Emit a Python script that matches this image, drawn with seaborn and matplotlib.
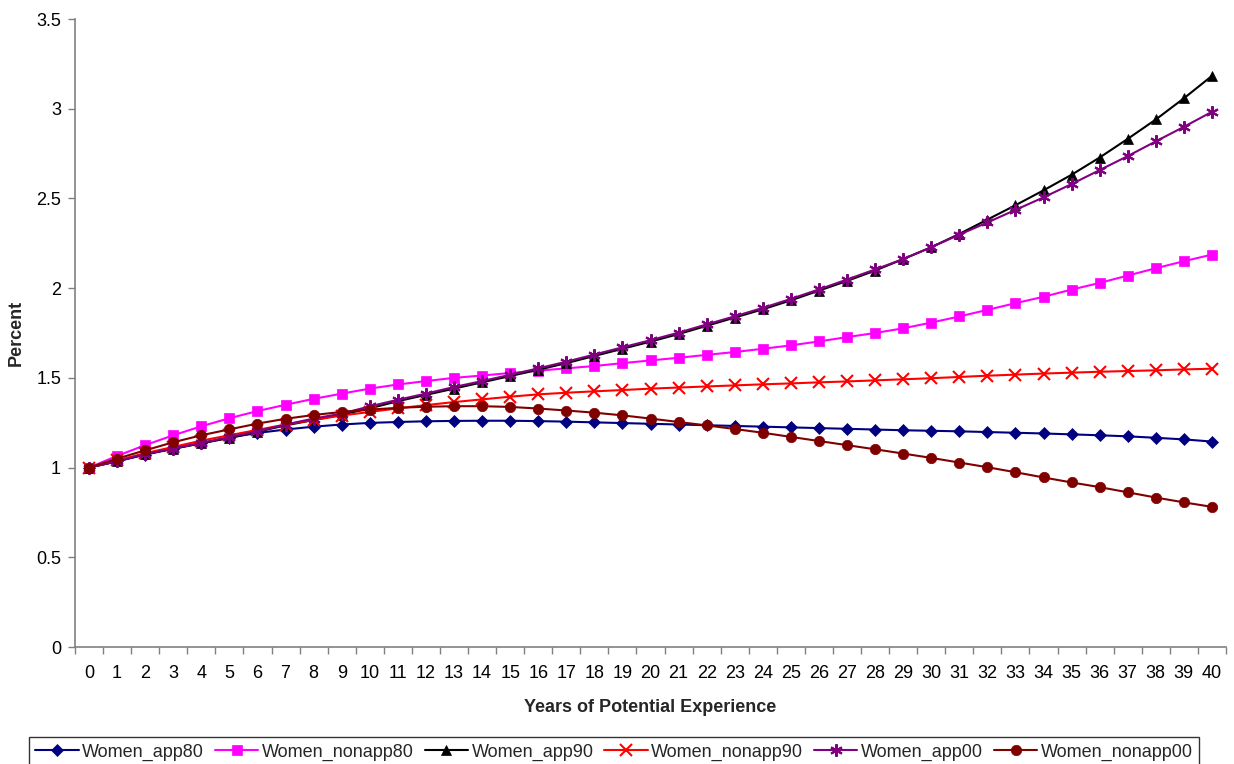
import matplotlib
matplotlib.use("Agg")
import matplotlib.pyplot as plt
from matplotlib.ticker import FixedLocator, NullFormatter
import numpy as np
import pandas as pd
import seaborn as sns

# Years of potential experience
years = list(range(41))

women_app80 = [1.000, 1.035, 1.072, 1.105, 1.137, 1.167, 1.193, 1.212, 1.228, 1.240,
               1.249, 1.254, 1.258, 1.260, 1.261, 1.261, 1.259, 1.256, 1.252, 1.248,
               1.244, 1.240, 1.236, 1.232, 1.228, 1.224, 1.220, 1.216, 1.212, 1.208,
               1.205, 1.202, 1.198, 1.194, 1.190, 1.185, 1.180, 1.174, 1.166, 1.157,
               1.145]
women_nonapp80 = [1.000, 1.065, 1.125, 1.180, 1.230, 1.275, 1.315, 1.350, 1.383, 1.412,
                  1.440, 1.463, 1.482, 1.500, 1.513, 1.527, 1.540, 1.553, 1.566, 1.582,
                  1.597, 1.612, 1.628, 1.644, 1.662, 1.681, 1.703, 1.727, 1.750, 1.776,
                  1.808, 1.842, 1.879, 1.916, 1.952, 1.992, 2.029, 2.070, 2.111, 2.150,
                  2.187]
women_app90 = [1.000, 1.035, 1.075, 1.105, 1.135, 1.165, 1.200, 1.235, 1.265, 1.295,
               1.330, 1.370, 1.405, 1.440, 1.475, 1.510, 1.545, 1.582, 1.622, 1.662,
               1.702, 1.744, 1.790, 1.836, 1.882, 1.932, 1.986, 2.040, 2.098, 2.162,
               2.228, 2.302, 2.382, 2.462, 2.545, 2.632, 2.728, 2.832, 2.940, 3.058,
               3.183]
women_nonapp90 = [1.000, 1.040, 1.080, 1.115, 1.150, 1.180, 1.210, 1.240, 1.265, 1.290,
                  1.310, 1.330, 1.348, 1.365, 1.380, 1.395, 1.408, 1.417, 1.425, 1.432,
                  1.440, 1.446, 1.452, 1.458, 1.464, 1.469, 1.475, 1.480, 1.486, 1.492,
                  1.498, 1.505, 1.512, 1.518, 1.524, 1.529, 1.534, 1.538, 1.542, 1.547,
                  1.551]
women_app00 = [1.000, 1.035, 1.075, 1.106, 1.137, 1.170, 1.202, 1.240, 1.273, 1.301,
               1.341, 1.378, 1.412, 1.449, 1.482, 1.517, 1.553, 1.590, 1.630, 1.670,
               1.710, 1.752, 1.798, 1.843, 1.890, 1.940, 1.993, 2.048, 2.104, 2.162,
               2.228, 2.298, 2.366, 2.436, 2.506, 2.580, 2.658, 2.736, 2.818, 2.899,
               2.983]
women_nonapp00 = [1.000, 1.050, 1.096, 1.141, 1.180, 1.213, 1.245, 1.272, 1.293, 1.310,
                  1.323, 1.333, 1.339, 1.342, 1.342, 1.338, 1.329, 1.318, 1.306, 1.291,
                  1.273, 1.254, 1.235, 1.215, 1.194, 1.171, 1.148, 1.125, 1.102, 1.078,
                  1.054, 1.028, 1.002, 0.974, 0.945, 0.917, 0.891, 0.862, 0.833, 0.806,
                  0.781]

series_names = ["Women_app80", "Women_nonapp80", "Women_app90",
                "Women_nonapp90", "Women_app00", "Women_nonapp00"]
series_values = [women_app80, women_nonapp80, women_app90,
                 women_nonapp90, women_app00, women_nonapp00]
y_ticks = [0, 0.5, 1, 1.5, 2, 2.5, 3, 3.5]
y_tick_labels = ["0", "0.5", "1", "1.5", "2", "2.5", "3", "3.5"]

colors = ["#000080", "#FF00FF", "#000000", "#FF0000", "#800080", "#800000"]
markers = ["D", "s", "^", "x", (6, 2, 0), "o"]
msizes = [6.5, 7.5, 7.5, 9, 9, 7.5]

df = pd.DataFrame({
    "year": np.tile(years, len(series_names)),
    "value": np.concatenate(series_values),
    "series": np.repeat(series_names, len(years)),
})

sns.set_theme(style="white")
plt.rcParams["font.family"] = ["Liberation Sans", "DejaVu Sans"]
FS = 13

fig = plt.figure(figsize=(12.34, 7.64), dpi=100)
ax = fig.add_axes([75 / 1234, 117 / 764, 1151 / 1234, 628 / 764])

for name, col, mk, ms in zip(series_names, colors, markers, msizes):
    sub = df[df["series"] == name]
    sns.lineplot(data=sub, x="year", y="value", ax=ax, color=col,
                 marker=mk, markersize=ms, markeredgecolor=col,
                 markerfacecolor=col,
                 markeredgewidth=1.5 if mk in ("x", (6, 2, 0)) else 0.5,
                 linewidth=1.5, label=name, legend=False)

ax.set_xlim(-0.5, 40.5)
ax.set_ylim(0, 3.5)
ax.set_yticks(y_ticks)
ax.set_yticklabels(y_tick_labels)
ax.set_xticks(years)
ax.set_xticklabels([str(y) for y in years])
ax.xaxis.set_minor_locator(FixedLocator(np.arange(-0.5, 41, 1)))
ax.xaxis.set_minor_formatter(NullFormatter())
ax.tick_params(axis="x", which="major", length=0, pad=13, labelsize=FS, colors="black")
ax.tick_params(axis="x", which="minor", length=5, width=1, color="#808080", bottom=True)
ax.tick_params(axis="y", which="major", length=5, width=1, color="#808080",
               left=True, pad=5, labelsize=FS, labelcolor="black")

for side in ("top", "right"):
    ax.spines[side].set_visible(False)
for side in ("left", "bottom"):
    ax.spines[side].set_color("#808080")
    ax.spines[side].set_linewidth(1.2)
ax.grid(False)

ax.set_xlabel("Years of Potential Experience", fontsize=FS, fontweight="bold", labelpad=12)
ax.set_ylabel("Percent", fontsize=FS, fontweight="bold", labelpad=8)

handles, labels = ax.get_legend_handles_labels()
leg = fig.legend(handles, labels, loc="upper center", ncol=6,
                 bbox_to_anchor=(614 / 1234, 1 - 737 / 764),
                 fontsize=FS, frameon=True, fancybox=False, edgecolor="black",
                 handlelength=2.4, handletextpad=0.2, columnspacing=0.6,
                 borderpad=0.35, borderaxespad=0)
leg.get_frame().set_linewidth(1.0)

fig.savefig("out.png", dpi=100)
